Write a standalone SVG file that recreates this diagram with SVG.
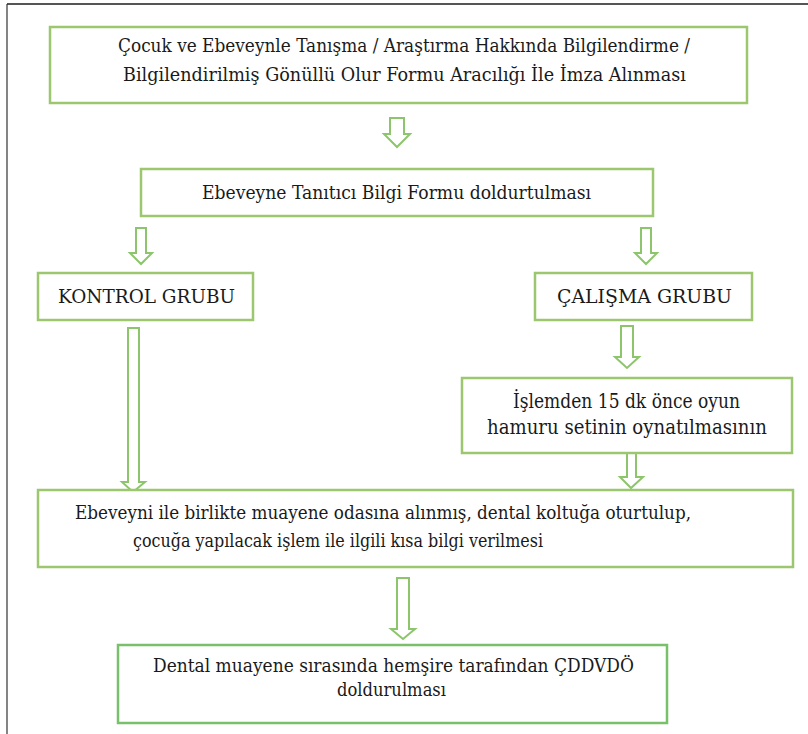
<svg xmlns="http://www.w3.org/2000/svg" width="808" height="734" viewBox="0 0 808 734">
<style>
.box{fill:#fff;stroke:#9cc76f;stroke-width:2.5}
.box2{fill:#fff;stroke:#78c06a;stroke-width:2.5}
.arr{fill:#fff;stroke:#8dc56c;stroke-width:2;stroke-linejoin:miter}
.t{font-family:'DejaVu Serif',serif;font-size:18px;fill:#1a1a1a}
.big{font-size:20px}
</style>
<rect width="808" height="734" fill="#fff"/>
<line x1="7" y1="4" x2="808" y2="4" stroke="#555" stroke-width="2"/>
<line x1="7" y1="4" x2="7" y2="734" stroke="#333" stroke-width="1.2"/>
<g id="connectors">
<path class="arr" d="M390,118 L404,118 L404,134 L410,134 L397,147 L384,134 L390,134 Z"/>
<path class="arr" d="M136,228 L146,228 L146,253 L152,253 L141,264 L130,253 L136,253 Z"/>
<path class="arr" d="M641,228 L651,228 L651,253 L657,253 L646,264 L635,253 L641,253 Z"/>
<path class="arr" d="M128,328 L139,328 L139,482 L145,482 L133,492 L122,482 L128,482 Z"/>
<path class="arr" d="M621,326 L633,326 L633,357 L639,357 L627,368 L615,357 L621,357 Z"/>
<path class="arr" d="M627,453 L636,453 L636,477 L643,477 L631,488 L620,477 L627,477 Z"/>
<path class="arr" d="M397,578 L409,578 L409,629 L415,629 L403,639 L391,629 L397,629 Z"/>
</g>
<g id="n1">
<rect class="box" x="50" y="27" width="697" height="76"/>
<text class="t" x="118" y="52" textLength="572" lengthAdjust="spacingAndGlyphs">Çocuk ve Ebeveynle Tanışma / Araştırma Hakkında Bilgilendirme /</text>
<text class="t" x="123" y="81" textLength="563" lengthAdjust="spacingAndGlyphs">Bilgilendirilmiş Gönüllü Olur Formu Aracılığı İle İmza Alınması</text>
</g>
<g id="n2">
<rect class="box" x="141" y="169" width="512" height="47"/>
<text class="t" x="202" y="199" textLength="389" lengthAdjust="spacingAndGlyphs">Ebeveyne Tanıtıcı Bilgi Formu doldurtulması</text>
</g>
<g id="n3">
<rect class="box" x="38" y="273" width="215" height="47"/>
<text class="t" x="58" y="303" textLength="177" lengthAdjust="spacingAndGlyphs">KONTROL GRUBU</text>
</g>
<g id="n4">
<rect class="box" x="535" y="273" width="217" height="47"/>
<text class="t" x="557" y="303" textLength="175" lengthAdjust="spacingAndGlyphs">ÇALIŞMA GRUBU</text>
</g>
<g id="n5">
<rect class="box" x="462" y="378" width="330" height="75"/>
<text class="t big" x="513" y="408" textLength="227" lengthAdjust="spacingAndGlyphs">İşlemden 15 dk önce oyun</text>
<text class="t big" x="487" y="434" textLength="280" lengthAdjust="spacingAndGlyphs">hamuru setinin oynatılmasının</text>
</g>
<g id="n6">
<rect class="box" x="38" y="490" width="755" height="77"/>
<text class="t" x="75" y="519" textLength="616" lengthAdjust="spacingAndGlyphs">Ebeveyni ile birlikte muayene odasına alınmış, dental koltuğa oturtulup,</text>
<text class="t" x="133" y="547" textLength="410" lengthAdjust="spacingAndGlyphs">çocuğa yapılacak işlem ile ilgili kısa bilgi verilmesi</text>
</g>
<g id="n7">
<rect class="box2" x="118" y="645" width="549" height="78"/>
<text class="t" x="153" y="672" textLength="481" lengthAdjust="spacingAndGlyphs">Dental muayene sırasında hemşire tarafından ÇDDVDÖ</text>
<text class="t" x="337" y="696" textLength="109" lengthAdjust="spacingAndGlyphs">doldurulması</text>
</g>
</svg>
